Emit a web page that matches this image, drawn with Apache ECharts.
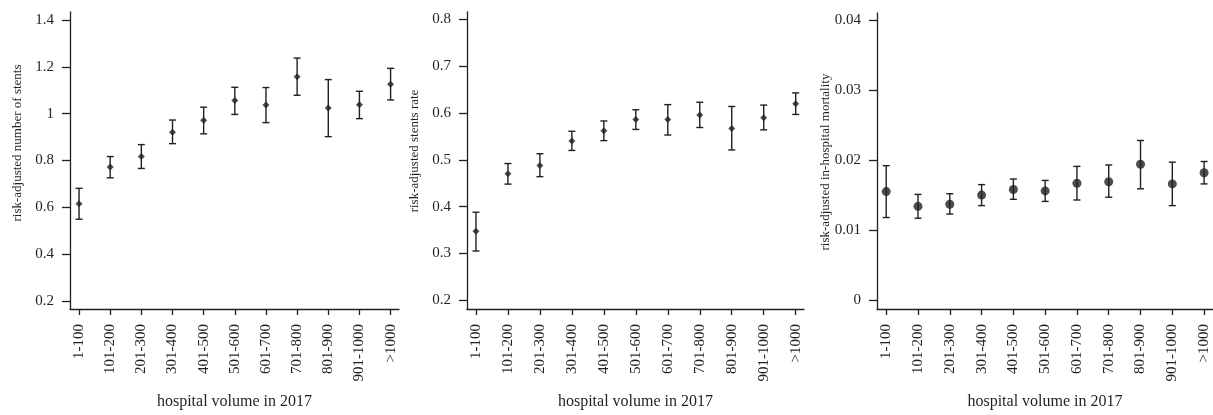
<!DOCTYPE html>
<html>
<head>
<meta charset="utf-8">
<script src="https://cdn.jsdelivr.net/npm/echarts@6/dist/echarts.min.js"></script>
<style>
  html, body { margin: 0; padding: 0; background: #fff; }
  #chart { width: 1213px; height: 415px; }
</style>
</head>
<body>
<div id="chart"></div>
<script>
// hospital volume groups (x axis)
const categories = ['1-100', '101-200', '201-300', '301-400', '401-500', '501-600',
  '601-700', '701-800', '801-900', '901-1000', '>1000'];

// panel 1: risk-adjusted number of stents
const stentsMean = [0.615, 0.772, 0.817, 0.921, 0.972, 1.057, 1.037, 1.158, 1.024, 1.038, 1.126];
const stentsLow = [0.549, 0.726, 0.766, 0.872, 0.914, 0.997, 0.962, 1.079, 0.902, 0.979, 1.059];
const stentsHigh = [0.681, 0.817, 0.868, 0.973, 1.028, 1.113, 1.112, 1.238, 1.146, 1.096, 1.194];
const stentsTicks = [0.2, 0.4, 0.6, 0.8, 1, 1.2, 1.4];

// panel 2: risk-adjusted stents rate
const rateMean = [0.347, 0.470, 0.488, 0.540, 0.562, 0.586, 0.586, 0.596, 0.567, 0.590, 0.620];
const rateLow = [0.305, 0.448, 0.464, 0.520, 0.541, 0.565, 0.553, 0.569, 0.521, 0.564, 0.597];
const rateHigh = [0.388, 0.492, 0.513, 0.561, 0.583, 0.607, 0.618, 0.623, 0.614, 0.617, 0.643];
const rateTicks = [0.2, 0.3, 0.4, 0.5, 0.6, 0.7, 0.8];

// panel 3: risk-adjusted in-hospital mortality
const mortMean = [0.0155, 0.0134, 0.0137, 0.0150, 0.0158, 0.0156, 0.0167, 0.0169, 0.0194, 0.0166, 0.0182];
const mortLow = [0.0118, 0.0117, 0.0123, 0.0135, 0.0144, 0.0141, 0.0143, 0.0147, 0.0159, 0.0135, 0.0166];
const mortHigh = [0.0192, 0.0151, 0.0152, 0.0165, 0.0173, 0.0171, 0.0191, 0.0193, 0.0228, 0.0197, 0.0198];
const mortTicks = [0, 0.01, 0.02, 0.03, 0.04];

const yTitles = ['risk-adjusted number of stents', 'risk-adjusted stents rate', 'risk-adjusted in-hospital mortality'];
const xTitle = 'hospital volume in 2017';

const ink = '#231f20';
const serif = '"Liberation Serif", "DejaVu Serif", serif';
const catPos = categories.map((c, i) => i + 1);

const chart = echarts.init(document.getElementById('chart'));

// error bar: vertical line with small caps
function renderErrorBar(params, api) {
  const x = api.value(0);
  const lo = api.coord([x, api.value(1)]);
  const hi = api.coord([x, api.value(2)]);
  const half = 3.5;
  const style = { stroke: ink, lineWidth: 1.4 };
  return {
    type: 'group',
    children: [
      { type: 'line', shape: { x1: lo[0], y1: lo[1], x2: hi[0], y2: hi[1] }, style: style },
      { type: 'line', shape: { x1: hi[0] - half, y1: hi[1], x2: hi[0] + half, y2: hi[1] }, style: style },
      { type: 'line', shape: { x1: lo[0] - half, y1: lo[1], x2: lo[0] + half, y2: lo[1] }, style: style }
    ]
  };
}

const panels = [
  { mean: stentsMean, low: stentsLow, high: stentsHigh, ticks: stentsTicks, min: 0.165, max: 1.435,
    symbol: 'diamond', size: 7, grid: { left: 70, top: 12, width: 329, height: 300 }, xmin: 0.71, xmax: 11.27 },
  { mean: rateMean, low: rateLow, high: rateHigh, ticks: rateTicks, min: 0.181, max: 0.816,
    symbol: 'diamond', size: 7, grid: { left: 467, top: 12, width: 337, height: 300 }, xmin: 0.72, xmax: 11.26 },
  { mean: mortMean, low: mortLow, high: mortHigh, ticks: mortTicks, min: -0.00126, max: 0.041,
    symbol: 'circle', size: 9, grid: { left: 877, top: 13, width: 338, height: 301 }, xmin: 0.71, xmax: 11.28 }
];

const axisLine = { show: true, onZero: false, lineStyle: { color: ink, width: 1.3 } };

chart.setOption({
  backgroundColor: '#fff',
  animation: false,
  grid: panels.map(p => p.grid),
  xAxis: panels.map((p, i) => ({
    type: 'value',
    gridIndex: i,
    min: p.xmin,
    max: p.xmax,
    axisLine: axisLine,
    axisTick: { show: true, length: 6, customValues: catPos, lineStyle: { color: ink, width: 1.3 } },
    axisLabel: {
      customValues: catPos,
      rotate: 90,
      margin: 15,
      fontFamily: serif,
      fontSize: 15,
      color: ink,
      formatter: v => categories[Math.round(v) - 1] || ''
    },
    splitLine: { show: false },
    name: xTitle,
    nameLocation: 'middle',
    nameGap: 85,
    nameTextStyle: { fontFamily: serif, fontSize: 16, color: ink }
  })),
  yAxis: panels.map((p, i) => ({
    type: 'value',
    gridIndex: i,
    min: p.min,
    max: p.max,
    axisLine: axisLine,
    axisTick: { show: true, length: 8, customValues: p.ticks, lineStyle: { color: ink, width: 1.3 } },
    axisLabel: {
      customValues: p.ticks,
      margin: 16,
      fontFamily: serif,
      fontSize: 15,
      color: ink,
      formatter: v => String(+v.toFixed(4))
    },
    splitLine: { show: false }
  })),
  // y axis titles placed like in the figure (not centred on the axes)
  graphic: [
    { type: 'text', x: 18, y: 143, rotation: Math.PI / 2,
      style: { text: yTitles[0], fontFamily: serif, fontSize: 13, fill: ink, align: 'center', verticalAlign: 'middle' } },
    { type: 'text', x: 415, y: 151, rotation: Math.PI / 2,
      style: { text: yTitles[1], fontFamily: serif, fontSize: 13, fill: ink, align: 'center', verticalAlign: 'middle' } },
    { type: 'text', x: 826, y: 162, rotation: Math.PI / 2,
      style: { text: yTitles[2], fontFamily: serif, fontSize: 13, fill: ink, align: 'center', verticalAlign: 'middle' } }
  ],
  series: panels.flatMap((p, i) => [
    {
      type: 'custom',
      xAxisIndex: i,
      yAxisIndex: i,
      renderItem: renderErrorBar,
      encode: { x: 0, y: [1, 2] },
      data: catPos.map((x, k) => [x, p.low[k], p.high[k]])
    },
    {
      type: 'scatter',
      xAxisIndex: i,
      yAxisIndex: i,
      symbol: p.symbol,
      symbolSize: p.size,
      itemStyle: { color: ink },
      data: catPos.map((x, k) => [x, p.mean[k]]),
      z: 3
    }
  ])
});
</script>
</body>
</html>
